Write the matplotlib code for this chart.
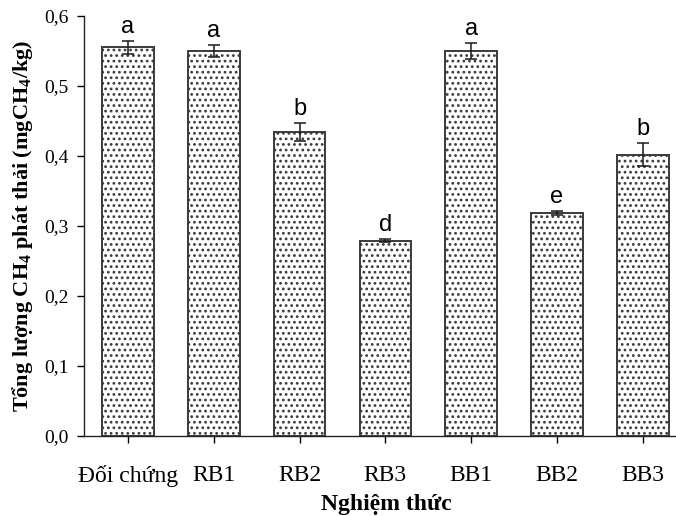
import matplotlib
matplotlib.use("Agg")
import matplotlib.pyplot as plt
from matplotlib.ticker import FuncFormatter

# values
treatments = ["Đối chứng", "RB1", "RB2", "RB3", "BB1", "BB2", "BB3"]
ch4_total = [0.555, 0.550, 0.434, 0.279, 0.550, 0.319, 0.402]
ch4_err = [0.0095, 0.008, 0.013, 0.002, 0.011, 0.003, 0.016]
groups = ["a", "a", "b", "d", "a", "e", "b"]
y_ticks = [0.0, 0.1, 0.2, 0.3, 0.4, 0.5, 0.6]

plt.rcParams["font.family"] = ["Liberation Serif", "DejaVu Serif"]
plt.rcParams["mathtext.fontset"] = "custom"
plt.rcParams["mathtext.rm"] = "Liberation Serif"
plt.rcParams["mathtext.bf"] = "Liberation Serif:bold"
plt.rcParams["hatch.color"] = "#9a9a9a"
plt.rcParams["hatch.linewidth"] = 1.2

fig = plt.figure(figsize=(6.76, 5.16), dpi=100)
ax = fig.add_axes([84 / 676, 80 / 516, 592 / 676, 420 / 516])

x = list(range(len(treatments)))
ax.bar(x, ch4_total, width=0.6, color="white", edgecolor="#3a3a3a",
       linewidth=1.4, hatch="...", zorder=2)
ax.errorbar(x, ch4_total, yerr=ch4_err, fmt="none", ecolor="#1a1a1a",
            elinewidth=1.1, capsize=4.3, capthick=1.1, zorder=3)

for xi, v, e, g in zip(x, ch4_total, ch4_err, groups):
    ax.annotate(g, (xi, v + e), xytext=(0, 5.8), textcoords="offset points",
                ha="center", va="baseline", fontsize=17,
                family=["Liberation Sans", "DejaVu Sans"])

ax.set_xlim(-0.513, 6.387)
ax.set_ylim(0, 0.6)
ax.set_xticks(x)
ax.set_xticklabels(treatments, fontsize=17)
ax.set_yticks(y_ticks)
ax.yaxis.set_major_formatter(FuncFormatter(lambda v, _: f"{v:.1f}".replace(".", ",")))
ax.tick_params(axis="y", labelsize=14, length=5, width=1, pad=6, direction="out")
ax.tick_params(axis="x", length=5, width=1, pad=16, direction="out")

for side in ("top", "right"):
    ax.spines[side].set_visible(False)
for side in ("left", "bottom"):
    ax.spines[side].set_linewidth(1.0)
    ax.spines[side].set_color("#222222")

ax.set_xlabel("Nghiệm thức", fontsize=17, fontweight="bold")
ax.xaxis.set_label_coords((386 - 84) / 592, -0.138)
ax.set_ylabel(r"Tổng lượng CH$_\mathbf{4}$ phát thải (mgCH$_\mathbf{4}$/kg)",
              fontsize=16, fontweight="bold")
ax.yaxis.set_label_coords(-0.083, 0.5)

fig.savefig("out.png", dpi=100)
